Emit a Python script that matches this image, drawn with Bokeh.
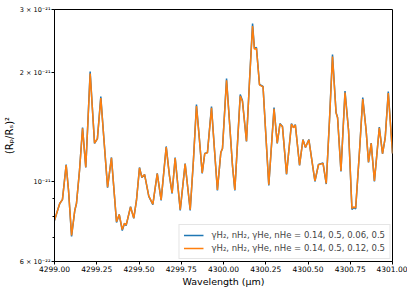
from bokeh.plotting import figure
from bokeh.models import FixedTicker, NumeralTickFormatter, Legend, LegendItem
from bokeh.embed import file_html
from bokeh.resources import INLINE

# Wavelength (micron)
wavelength = [4299.000, 4299.018, 4299.031, 4299.047, 4299.069, 4299.083, 4299.101, 4299.120,
              4299.130, 4299.148, 4299.166, 4299.185, 4299.198, 4299.211, 4299.225, 4299.237,
              4299.254, 4299.274, 4299.293, 4299.314, 4299.337, 4299.367, 4299.383, 4299.401,
              4299.414, 4299.424, 4299.450, 4299.469, 4299.485, 4299.503, 4299.517, 4299.533,
              4299.558, 4299.582, 4299.608, 4299.631, 4299.661, 4299.680, 4299.696, 4299.714,
              4299.744, 4299.773, 4299.803, 4299.822, 4299.840, 4299.858, 4299.874, 4299.889,
              4299.905, 4299.929, 4299.947, 4299.964, 4299.984, 4299.994, 4300.018, 4300.037,
              4300.053, 4300.067, 4300.099, 4300.112, 4300.136, 4300.154, 4300.172, 4300.183,
              4300.195, 4300.213, 4300.234, 4300.249, 4300.268, 4300.299, 4300.318, 4300.334,
              4300.349, 4300.373, 4300.402, 4300.414, 4300.425, 4300.450, 4300.470, 4300.485,
              4300.505, 4300.541, 4300.562, 4300.589, 4300.608, 4300.627, 4300.645, 4300.666,
              4300.675, 4300.695, 4300.719, 4300.740, 4300.760, 4300.772, 4300.782, 4300.805,
              4300.824, 4300.844, 4300.858, 4300.874, 4300.893, 4300.922, 4300.941, 4300.957,
              4300.975, 4301.000]

# (Rp/Rs)^2 in units of 1e-21, gamma_He = 0.06
depth_he006 = [0.780, 0.831, 0.869, 0.891, 1.115, 0.944, 0.704, 0.831,
               0.869, 1.073, 1.412, 1.094, 1.476, 2.019, 1.574, 1.275,
               1.316, 1.721, 1.300, 0.962, 1.166, 0.770, 0.810, 0.731,
               0.765, 0.755, 0.852, 0.790, 0.886, 1.094, 1.026, 1.046,
               0.909, 0.863, 1.053, 0.886, 1.251, 1.039, 0.926, 1.166,
               0.831, 1.122, 0.831, 1.144, 1.635, 1.300, 1.053, 1.196,
               1.203, 1.615, 1.219, 0.944, 1.203, 1.235, 1.931, 1.430,
               1.108, 0.944, 1.743, 1.678, 1.291, 1.906, 2.744, 2.339,
               2.354, 1.858, 1.835, 1.385, 0.975, 1.604, 1.275, 1.448,
               1.421, 1.046, 1.448, 1.412, 1.439, 1.108, 1.308, 1.243,
               1.308, 1.000, 1.115, 1.125, 0.984, 1.476, 2.251, 1.554,
               1.505, 1.066, 1.783, 1.385, 0.836, 0.847, 0.839, 1.219,
               1.710, 1.385, 1.129, 1.279, 1.000, 1.416, 1.194, 1.325,
               1.777, 1.196]

# (Rp/Rs)^2 in units of 1e-21, gamma_He = 0.12 (slightly flatter extremes)
depth_he012 = [0.781, 0.831, 0.869, 0.891, 1.110, 0.946, 0.709, 0.832,
               0.869, 1.073, 1.405, 1.096, 1.470, 1.993, 1.570, 1.277,
               1.316, 1.703, 1.300, 0.965, 1.163, 0.774, 0.810, 0.736,
               0.766, 0.757, 0.850, 0.792, 0.886, 1.091, 1.027, 1.045,
               0.911, 0.866, 1.051, 0.889, 1.246, 1.040, 0.930, 1.162,
               0.835, 1.119, 0.835, 1.144, 1.620, 1.300, 1.056, 1.195,
               1.202, 1.600, 1.219, 0.948, 1.203, 1.235, 1.908, 1.428,
               1.110, 0.948, 1.727, 1.670, 1.293, 1.900, 2.700, 2.330,
               2.340, 1.855, 1.830, 1.385, 0.980, 1.590, 1.277, 1.443,
               1.418, 1.050, 1.443, 1.410, 1.435, 1.111, 1.305, 1.244,
               1.305, 1.004, 1.113, 1.123, 0.988, 1.472, 2.222, 1.550,
               1.503, 1.069, 1.766, 1.385, 0.842, 0.851, 0.845, 1.219,
               1.692, 1.385, 1.132, 1.276, 1.004, 1.410, 1.195, 1.322,
               1.760, 1.196]

scale = 1e-21
y_blue = [v * scale for v in depth_he006]
y_orange = [v * scale for v in depth_he012]

x_ticks = [4299.0, 4299.25, 4299.5, 4299.75, 4300.0, 4300.25, 4300.5, 4300.75, 4301.0]
y_ticks = [6e-22, 1e-21, 2e-21, 3e-21]
y_tick_labels = ["6 × 10⁻²²", "10⁻²¹", "2 × 10⁻²¹", "3 × 10⁻²¹"]
y_minor = [7e-22, 8e-22, 9e-22]

labels = ["γH₂, nH₂, γHe, nHe = 0.14, 0.5, 0.06, 0.5",
          "γH₂, nH₂, γHe, nHe = 0.14, 0.5, 0.12, 0.5"]
colors = ["#1f77b4", "#ff7f0e"]

FONT = "DejaVu Sans"

p = figure(frame_width=338, frame_height=252, y_axis_type="log",
           x_range=(4299.0, 4301.0), y_range=(6e-22, 3e-21),
           output_backend="svg", toolbar_location=None,
           min_border_left=0, min_border_right=15, min_border_top=9, min_border_bottom=0)

r1 = p.line(wavelength, y_blue, line_color=colors[0], line_width=1.5)
r2 = p.line(wavelength, y_orange, line_color=colors[1], line_width=1.5)

p.xgrid.visible = False
p.ygrid.visible = False
p.outline_line_color = "black"
p.outline_line_width = 1
p.outline_line_alpha = 1

p.xaxis.ticker = FixedTicker(ticks=x_ticks)
p.xaxis.formatter = NumeralTickFormatter(format="0.00")
p.yaxis.ticker = FixedTicker(ticks=y_ticks, minor_ticks=y_minor)
p.yaxis.major_label_overrides = {t: l for t, l in zip(y_ticks, y_tick_labels)}

for ax in (p.xaxis[0], p.yaxis[0]):
    ax.axis_line_color = "black"
    ax.major_tick_line_color = "black"
    ax.minor_tick_line_color = "black"
    ax.major_tick_in = 0
    ax.major_tick_out = 3
    ax.minor_tick_in = 0
    ax.minor_tick_out = 2
    ax.major_label_text_font = FONT
    ax.axis_label_text_font = FONT
    ax.axis_label_text_font_style = "normal"
    ax.major_label_text_color = "black"
    ax.axis_label_text_color = "black"
    ax.major_label_standoff = 1

p.xaxis.major_label_text_font_size = "7.5px"
p.xaxis.minor_tick_line_color = None
p.yaxis.major_label_text_font_size = "6.5px"
p.xaxis.axis_label = "Wavelength (μm)"
p.xaxis.axis_label_text_font_size = "9.5px"
p.xaxis.axis_label_standoff = 1
p.yaxis.axis_label = "(Rₚ/Rₛ)²"
p.yaxis.axis_label_text_font_size = "10px"
p.yaxis.axis_label_standoff = 2

legend = Legend(items=[LegendItem(label=labels[0], renderers=[r1]),
                       LegendItem(label=labels[1], renderers=[r2])],
                location="bottom_right")
legend.label_text_font = FONT
legend.label_text_font_size = "8.5px"
legend.border_line_color = "#cccccc"
legend.border_line_width = 1
legend.background_fill_alpha = 0.8
legend.glyph_width = 20
legend.glyph_height = 12
legend.label_height = 12
legend.spacing = 1
legend.padding = 4
legend.margin = 2
legend.label_standoff = 8
p.add_layout(legend)

open("out.html", "w").write(file_html(p, INLINE))
